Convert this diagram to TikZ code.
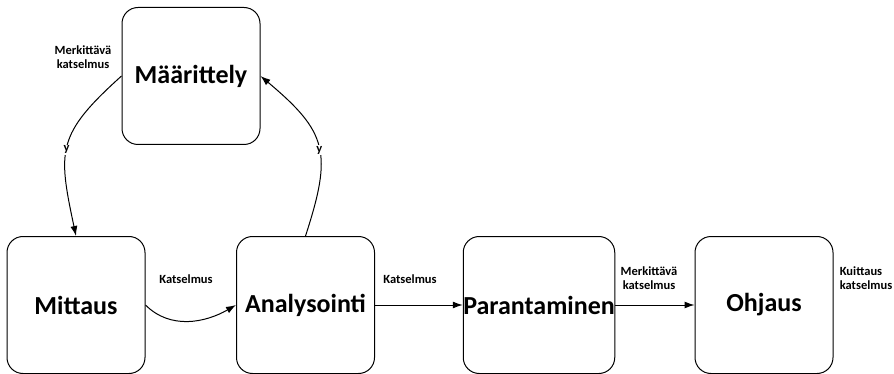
\documentclass[tikz,border=0pt]{standalone}
\usepackage{fontspec}
\setmainfont{Carlito}
\usetikzlibrary{arrows.meta,positioning}

\begin{document}
\begin{tikzpicture}[x=1pt,y=-1pt,
	phase/.style={rectangle,draw,line width=1pt,rounded corners=16pt,minimum width=138pt,minimum height=137pt,inner sep=2pt,font=\fontsize{26}{30}\selectfont\bfseries},
	lbl/.style={font=\fontsize{12.5}{14}\selectfont\bfseries,align=center,inner sep=1pt},
	flow/.style={line width=1pt,-{Latex[length=10pt,width=7pt]}}]
	\useasboundingbox (0,0) rectangle (894,374);
	\node[phase] (Maar) at (191,76) {Määrittely};
	\node[phase] (Mitt) at (76,305) {Mittaus};
	\node[phase] (Anal) at (305.5,305) {Analysointi};
	\node[phase,inner sep=0pt] (Para) at (539,305) {Parantaminen};
	\node[phase] (Ohj) at (764,305) {Ohjaus};
	\node[lbl] (L1) at (83,57) {Merkittävä\\katselmus};
	\node[lbl] (L2) at (186,279) {Katselmus};
	\node[lbl] (L3) at (410,279) {Katselmus};
	\node[lbl] (L4) at (649,278) {Merkittävä\\katselmus};
	\node[lbl,align=left] (L5) at (866,278) {Kuittaus\\katselmus};
	\draw[flow] (Maar.west) to[out=222,in=102,looseness=1.35] node[lbl,fill=white,pos=0.53] {y} (Mitt.north);
	\draw[flow] (Anal.north) to[out=72,in=-40,looseness=1.35] node[lbl,fill=white,pos=0.47] {y} (Maar.east);
	\draw[flow] (Mitt.east) to[out=-45,in=210] (Anal.west);
	\draw[flow] (Anal) -- (Para);
	\draw[flow] (Para) -- (Ohj);
\end{tikzpicture}
\end{document}
